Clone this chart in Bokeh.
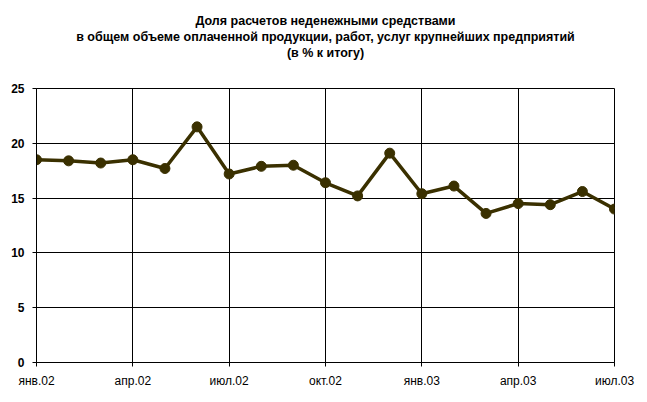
from bokeh.plotting import figure
from bokeh.models import FixedTicker, Range1d, Title
from bokeh.embed import file_html
from bokeh.resources import INLINE

months = list(range(19))
values = [18.5, 18.4, 18.2, 18.5, 17.7, 21.5, 17.2, 17.9, 18.0, 16.4,
          15.2, 19.1, 15.4, 16.1, 13.6, 14.5, 14.4, 15.6, 14.0]
tick_pos = [0, 3, 6, 9, 12, 15, 18]
tick_labels = ["янв.02", "апр.02", "июл.02", "окт.02", "янв.03", "апр.03", "июл.03"]
title_lines = ["Доля расчетов неденежными средствами",
               "в общем объеме оплаченной продукции, работ, услуг крупнейших предприятий",
               "(в % к итогу)"]

FONT = "Liberation Sans"
COLOR = "#3a3000"

p = figure(width=647, height=400, output_backend="svg", toolbar_location=None,
           x_range=Range1d(0, 18), y_range=Range1d(0, 25),
           min_border_left=36, min_border_right=33, min_border_top=88, min_border_bottom=38)

spacer = Title(text=" ", align="center", text_font=FONT, text_font_size="24px",
               standoff=0, offset=0)
p.add_layout(spacer, "above")
for line in reversed(title_lines):
    t = Title(text=line, align="center", text_font=FONT, text_font_size="12.5px",
              text_font_style="bold", text_color="black", offset=0, standoff=0)
    p.add_layout(t, "above")

p.line(months, values, line_color=COLOR, line_width=3.5)
p.scatter(months, values, size=10, fill_color=COLOR, line_color=COLOR)

p.xaxis.ticker = FixedTicker(ticks=tick_pos)
p.xaxis.major_label_overrides = {t: l for t, l in zip(tick_pos, tick_labels)}
p.xaxis.major_label_standoff = 7
p.yaxis.ticker = FixedTicker(ticks=[0, 5, 10, 15, 20, 25])
for ax in (p.xaxis[0], p.yaxis[0]):
    ax.axis_line_color = "black"
    ax.major_tick_line_color = "black"
    ax.major_tick_in = 0
    ax.major_tick_out = 4
    ax.minor_tick_line_color = None
    ax.major_label_text_font = FONT
    ax.major_label_text_font_size = "12px"
    ax.major_label_text_color = "black"
p.yaxis.major_label_text_font_style = "bold"
p.yaxis.major_label_standoff = 8

p.xgrid.ticker = FixedTicker(ticks=tick_pos)
p.grid.grid_line_color = "black"
p.grid.grid_line_alpha = 1.0
p.grid.grid_line_width = 1
p.outline_line_color = "black"
p.background_fill_color = "white"
p.border_fill_color = "white"

open("out.html", "w").write(file_html(p, INLINE))
